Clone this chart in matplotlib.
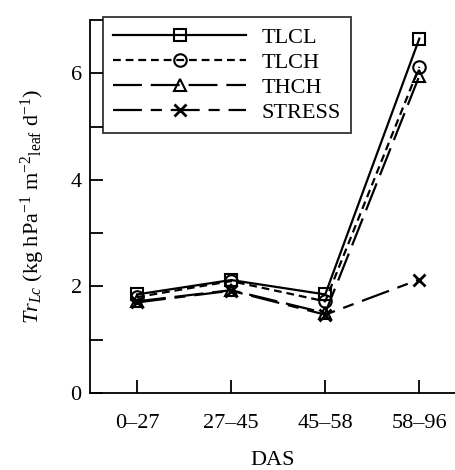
import numpy as np
import matplotlib
matplotlib.use("Agg")
import matplotlib.pyplot as plt

# ===== data =====
periods = ["0\u201327", "27\u201345", "45\u201358", "58\u201396"]
tlcl = [1.85, 2.12, 1.85, 6.65]
tlch = [1.80, 2.10, 1.72, 6.12]
thch = [1.72, 1.93, 1.50, 5.95]
stress = [1.70, 1.92, 1.47, 2.13]

plt.rcParams['font.family'] = ['Liberation Serif', 'DejaVu Serif']
plt.rcParams['mathtext.fontset'] = 'custom'
plt.rcParams['mathtext.rm'] = 'Liberation Serif'
plt.rcParams['mathtext.it'] = 'Liberation Serif:italic'

fig = plt.figure(figsize=(4.56, 4.70), dpi=100)
ax = fig.add_axes([90 / 456, 77 / 470, 366 / 456, 373 / 470])

x = np.arange(len(periods))
lw = 1.6
ms = 9
ax.plot(x, tlcl, color='black', lw=lw, ls='-', marker='s', ms=ms,
        mfc='none', mew=1.5, label='TLCL')
ax.plot(x, tlch, color='black', lw=lw, ls=(0, (3.5, 2.2)), marker='o', ms=ms,
        mfc='none', mew=1.5, label='TLCH')
ax.plot(x, thch, color='black', lw=lw, ls=(0, (13, 4)), marker='^', ms=ms,
        mfc='none', mew=1.5, label='THCH')
ax.plot(x, stress, color='black', lw=lw, ls=(0, (13, 4, 5, 4)), marker='x', ms=ms,
        mew=2, label='STRESS')

ax.set_xlim(-0.5, 3.39)
ax.set_ylim(0, 7)
ax.set_xticks(x)
ax.set_xticklabels(periods)
ax.set_yticks([0, 2, 4, 6])
ax.set_yticks([1, 3, 5, 7], minor=True)

for s in ['top', 'right']:
    ax.spines[s].set_visible(False)
for s in ['left', 'bottom']:
    ax.spines[s].set_linewidth(1.3)

ax.tick_params(axis='both', which='both', direction='in', length=9.5,
               width=1.3, labelsize=16)
ax.tick_params(axis='y', pad=6)
ax.tick_params(axis='x', pad=15)

ax.set_xlabel('DAS', fontsize=16, labelpad=13)
ax.set_ylabel(r'$Tr_{Lc}$ (kg hPa$^{-1}$ m$^{-2}$$_{\rm leaf}$ d$^{-1}$)',
              fontsize=16, labelpad=17)

leg = ax.legend(loc='upper left', bbox_to_anchor=(103 / 456, 1 - 17 / 470),
                bbox_transform=fig.transFigure, fontsize=16, handlelength=6.0,
                labelspacing=0.2, handletextpad=0.7, borderpad=0.45,
                borderaxespad=0, frameon=True, fancybox=False,
                edgecolor='black')
leg.get_frame().set_linewidth(1.3)

fig.savefig('out.png', dpi=100)
